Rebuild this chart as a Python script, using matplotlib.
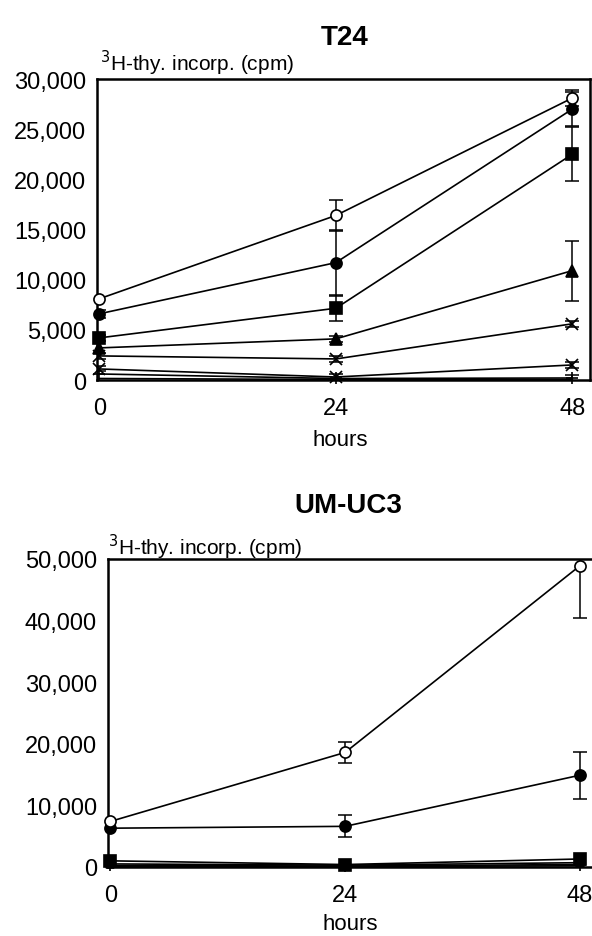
import matplotlib
matplotlib.use("Agg")
import matplotlib.pyplot as plt
import numpy as np

plt.rcParams['font.family'] = ['Liberation Sans', 'DejaVu Sans']

hours = [0, 24, 48]
x_ticklabels = ["0", "24", "48"]

# ---- T24 panel ----
t24_yticks = [0, 5000, 10000, 15000, 20000, 25000, 30000]
t24_yticklabels = ["0", "5,000", "10,000", "15,000", "20,000", "25,000", "30,000"]
t24_open_circle = [8100, 16400, 28100]
t24_open_circle_err = [0, 1500, 800]
t24_filled_circle = [6600, 11700, 27000]
t24_filled_circle_err = [400, 3300, 1700]
t24_square = [4200, 7150, 22500]
t24_square_err = [300, 1300, 2700]
t24_triangle = [3200, 4100, 10900]
t24_triangle_err = [0, 300, 3000]
t24_cross = [2400, 2100, 5600]
t24_cross_err = [300, 300, 300]
t24_cross2 = [1100, 300, 1500]
t24_cross2_err = [250, 250, 300]
t24_plus = [600, 150, 200]
t24_plus_err = [0, 0, 300]
t24_base = [150, 50, 50]

# ---- UM-UC3 panel ----
um_yticks = [0, 10000, 20000, 30000, 40000, 50000]
um_yticklabels = ["0", "10,000", "20,000", "30,000", "40,000", "50,000"]
um_open_circle = [7400, 18600, 48900]
um_open_circle_err = [0, 1750, 8500]
um_filled_circle = [6300, 6600, 14900]
um_filled_circle_err = [0, 1800, 3800]
um_square = [1000, 400, 1300]
um_low1 = [500, 300, 700]
um_low2 = [250, 150, 400]
um_low3 = [100, 50, 200]

W, H = 592, 937
fig = plt.figure(figsize=(W / 100, H / 100), dpi=100)


def px_axes(left, right, top, bottom):
    return fig.add_axes([left / W, 1 - bottom / H, (right - left) / W, (bottom - top) / H])


def series(ax, y, err, marker, mfc, ms=8):
    if err is not None and any(e > 0 for e in err):
        xs = [h for h, e in zip(hours, err) if e > 0]
        ys = [v for v, e in zip(y, err) if e > 0]
        es = [e for e in err if e > 0]
        ax.errorbar(xs, ys, yerr=es, fmt='none', ecolor='black', elinewidth=1.1,
                    capsize=5, capthick=1.1, zorder=2)
    ax.plot(hours, y, color='black', lw=1.2, marker=marker, ms=ms,
            mfc=mfc, mec='black', mew=1.2, clip_on=False, zorder=3)


def style(ax, yticks, yticklabels, ymax, xright):
    ax.set_xlim(-0.25, xright)
    ax.set_ylim(0, ymax)
    ax.set_xticks(hours)
    ax.set_xticklabels(x_ticklabels, fontsize=17)
    ax.set_yticks(yticks)
    ax.set_yticklabels(yticklabels, fontsize=17)
    ax.tick_params(length=0, pad=8)
    ax.tick_params(axis='x', pad=12)
    for s in ax.spines.values():
        s.set_linewidth(1.8)


# Top panel
ax1 = px_axes(97, 590, 80, 381)
series(ax1, t24_base, None, None, 'black')
series(ax1, t24_plus, t24_plus_err, '+', 'black', ms=9)
series(ax1, t24_cross2, t24_cross2_err, 'x', 'black', ms=8)
series(ax1, t24_cross, t24_cross_err, 'x', 'black', ms=8)
series(ax1, t24_triangle, t24_triangle_err, '^', 'black')
series(ax1, t24_square, t24_square_err, 's', 'black')
series(ax1, t24_filled_circle, t24_filled_circle_err, 'o', 'black')
series(ax1, t24_open_circle, t24_open_circle_err, 'o', 'white')
style(ax1, t24_yticks, t24_yticklabels, 30000, 49.8)

# Bottom panel
ax2 = px_axes(108, 597.5, 560, 868)
series(ax2, um_low3, None, None, 'black')
series(ax2, um_low2, None, '+', 'black')
series(ax2, um_low1, None, '^', 'black', ms=6)
series(ax2, um_square, None, 's', 'black')
series(ax2, um_filled_circle, um_filled_circle_err, 'o', 'black')
series(ax2, um_open_circle, um_open_circle_err, 'o', 'white')
style(ax2, um_yticks, um_yticklabels, 50000, 49.8)


def ftext(x, y, s, **kw):
    fig.text(x / W, 1 - y / H, s, **kw)


ftext(345, 38, "T24", fontsize=20, fontweight='bold', ha='center', va='center')
ftext(100, 63, "$^3$H-thy. incorp. (cpm)", fontsize=15, ha='left', va='center')
ftext(340, 441, "hours", fontsize=16, ha='center', va='center')

ftext(348, 506, "UM-UC3", fontsize=20, fontweight='bold', ha='center', va='center')
ftext(108, 547, "$^3$H-thy. incorp. (cpm)", fontsize=15, ha='left', va='center')
ftext(350, 925, "hours", fontsize=16, ha='center', va='center')

fig.savefig("out.png", dpi=100)
